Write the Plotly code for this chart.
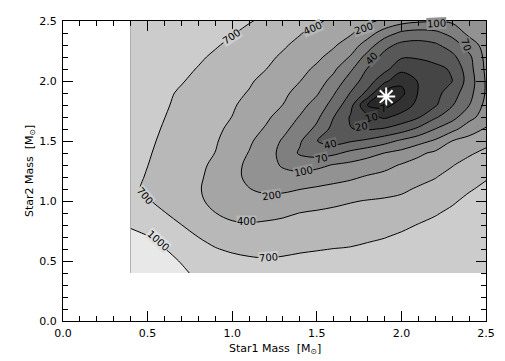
import numpy as np
import plotly.graph_objects as go

# ---------------- data ----------------
star1_mass = [0.4, 0.5, 0.6, 0.7, 0.8, 0.9, 1.0, 1.1, 1.2, 1.3, 1.4,
              1.5, 1.6, 1.7, 1.8, 1.9, 2.0, 2.1, 2.2, 2.3, 2.4, 2.5]
star2_mass = [0.4, 0.5, 0.6, 0.7, 0.8, 0.9, 1.0, 1.1, 1.2, 1.3, 1.4,
              1.5, 1.6, 1.7, 1.8, 1.9, 2.0, 2.1, 2.2, 2.3, 2.4, 2.5]

contour_levels = [7, 10, 20, 40, 70, 100, 200, 400, 700, 1000]

# chi-square values, one list per Star2-mass row (Star1 mass runs left to right)
chi2_y040 = [1450, 1290, 1170, 1060, 979, 940, 901, 859, 826, 826, 835, 850, 865, 880, 895, 910, 922, 931, 940, 946, 952, 958]
chi2_y050 = [1320, 1200, 1100, 994, 940, 886, 790, 745, 724, 736, 757, 766, 778, 793, 826, 868, 898, 919, 934, 946, 955, 961]
chi2_y060 = [1250, 1120, 1020, 907, 811, 715, 655, 628, 631, 646, 670, 688, 703, 715, 745, 778, 820, 865, 889, 910, 931, 946]
chi2_y070 = [1170, 1050, 922, 811, 698, 607, 544, 526, 535, 556, 583, 601, 619, 634, 661, 691, 739, 796, 850, 880, 910, 931]
chi2_y080 = [979, 886, 793, 703, 601, 499, 439, 424, 442, 463, 493, 517, 535, 553, 577, 604, 649, 709, 766, 820, 865, 895]
chi2_y090 = [925, 817, 709, 607, 505, 403, 354, 340, 346, 370, 403, 430, 454, 472, 493, 517, 553, 616, 676, 754, 820, 865]
chi2_y100 = [814, 721, 628, 535, 439, 356, 300, 268, 248, 268, 302, 332, 362, 390, 412, 430, 457, 520, 580, 664, 766, 835]
chi2_y110 = [748, 664, 583, 499, 418, 344, 274, 204, 185, 183, 198, 224, 252, 282, 316, 342, 370, 427, 484, 574, 673, 760]
chi2_y120 = [766, 682, 601, 520, 436, 348, 254, 180, 150, 129, 131, 150, 168, 185, 218, 254, 292, 344, 392, 484, 583, 673]
chi2_y130 = [784, 703, 619, 538, 457, 366, 260, 180, 135, 97, 88.6, 92.2, 106, 125, 147, 172, 214, 266, 314, 390, 490, 568]
chi2_y140 = [802, 721, 640, 559, 478, 398, 294, 196, 140, 91.9, 66.1, 57.4, 63.4, 77.8, 89.5, 101, 130, 181, 236, 298, 376, 460]
chi2_y150 = [817, 739, 661, 580, 502, 424, 328, 230, 154, 96.7, 73.6, 40.6, 32.6, 38.4, 45.7, 59.2, 75.4, 89.2, 114, 202, 272, 346]
chi2_y160 = [835, 757, 682, 604, 526, 448, 366, 276, 190, 125, 87.4, 63.1, 33.4, 20.5, 19.0, 21.8, 30.6, 46, 70.3, 91, 153, 220]
chi2_y170 = [853, 778, 703, 628, 550, 475, 398, 316, 234, 161, 98.2, 76.6, 40.3, 19, 12.8, 9.52, 13.4, 19, 37.2, 59.2, 90.4, 145]
chi2_y180 = [871, 796, 724, 649, 574, 502, 427, 352, 274, 199, 135, 88.3, 58.6, 26.6, 6.65, 4.9, 8.23, 12.8, 18.7, 38.4, 69.1, 129]
chi2_y190 = [880, 811, 742, 670, 601, 532, 460, 390, 314, 238, 171, 112, 72.7, 39, 17.5, 4.2, 5.25, 10.6, 16.5, 30.6, 58.9, 110]
chi2_y200 = [910, 844, 784, 715, 643, 571, 499, 430, 354, 278, 204, 144, 90.7, 54.7, 30.6, 12.5, 7.6, 10.7, 15.3, 19.8, 53.2, 110]
chi2_y210 = [925, 880, 820, 754, 688, 616, 544, 472, 403, 328, 256, 183, 117, 74.8, 38.8, 26.2, 13, 15, 17.5, 22.2, 58.3, 120]
chi2_y220 = [940, 895, 841, 790, 733, 664, 592, 520, 451, 378, 308, 238, 167, 97.6, 58.3, 34, 22, 22, 26, 35, 63.1, 130]
chi2_y230 = [955, 916, 871, 826, 775, 721, 652, 577, 505, 430, 360, 292, 224, 151, 86.5, 49, 35, 33, 37, 52.6, 84.1, 140]
chi2_y240 = [964, 934, 895, 856, 811, 760, 715, 646, 568, 493, 415, 350, 288, 224, 145, 85.9, 64, 58, 62.5, 80.5, 125, 150]
chi2_y250 = [970, 946, 916, 880, 841, 799, 760, 715, 658, 586, 511, 436, 366, 300, 234, 185, 140, 115, 110, 115, 130, 150]

best_fit_star1 = [1.91]
best_fit_star2 = [1.87]

# ---------------- styling ----------------
band_grays = [40, 59, 78, 98, 117, 136, 155, 174, 194, 213, 232]


def gray(v):
    v = int(round(v))
    return f"rgb({v},{v},{v})"


# contour label placement (text, x, y, angle, level index)
label_specs = [
    ("700", 0.997, 2.37, -33, 9),
    ("400", 1.472, 2.44, -24, 8),
    ("200", 1.775, 2.44, -18, 7),
    ("100", 2.21, 2.478, -3, 6),
    ("70", 2.386, 2.30, 70, 5),
    ("40", 1.824, 2.19, -45, 4),
    ("7", 1.89, 1.775, -20, 1),
    ("10", 1.824, 1.70, -15, 2),
    ("20", 1.766, 1.62, -10, 3),
    ("40", 1.578, 1.467, -15, 4),
    ("70", 1.529, 1.356, -15, 5),
    ("100", 1.42, 1.244, -12, 6),
    ("200", 1.233, 1.05, -8, 7),
    ("400", 1.086, 0.828, 0, 8),
    ("700", 1.213, 0.53, -5, 9),
    ("700", 0.485, 1.05, 50, 9),
    ("1000", 0.563, 0.675, 42, 10),
]

# ---------------- build figure ----------------
z_chi2 = np.array([chi2_y040, chi2_y050, chi2_y060, chi2_y070, chi2_y080,
                   chi2_y090, chi2_y100, chi2_y110, chi2_y120, chi2_y130,
                   chi2_y140, chi2_y150, chi2_y160, chi2_y170, chi2_y180,
                   chi2_y190, chi2_y200, chi2_y210, chi2_y220, chi2_y230,
                   chi2_y240, chi2_y250], dtype=float)

# Plotly contours need evenly spaced levels: map chi2 onto a level-index scale
level_x = [0] + contour_levels + [2000]
level_t = list(range(len(level_x)))
z_index = np.interp(z_chi2, level_x, level_t)

colorscale = [[0.0, gray(band_grays[0])], [0.05, gray(band_grays[0])]]
for k in range(1, 10):
    colorscale.append([(k + 0.5) / 10.0, gray(band_grays[k])])
colorscale.append([1.0, gray(band_grays[10])])

fig = go.Figure()
fig.add_trace(go.Contour(
    x=star1_mass, y=star2_mass, z=z_index,
    customdata=z_chi2,
    hovertemplate="M1=%{x}<br>M2=%{y}<br>chi2=%{customdata}<extra></extra>",
    autocontour=False,
    contours=dict(start=1, end=10, size=1, coloring="fill", showlines=True),
    line=dict(color="black", width=1, smoothing=1),
    colorscale=colorscale,
    showscale=False,
))

fig.add_trace(go.Scatter(
    x=best_fit_star1, y=best_fit_star2, mode="markers",
    marker=dict(symbol="asterisk-open", size=15, color="white",
                line=dict(color="white", width=2)),
    hoverinfo="skip",
))

annotations = []
for text, ax_, ay_, ang, k in label_specs:
    annotations.append(dict(
        x=ax_, y=ay_, xref="x", yref="y", text=text, showarrow=False,
        textangle=ang, font=dict(family="DejaVu Sans", size=10, color="black"),
        bgcolor=gray((band_grays[k - 1] + band_grays[k]) / 2.0),
        borderpad=0,
    ))

# axis titles as annotations placed like the reference
annotations.append(dict(
    x=0.5, y=-0.093, xref="paper", yref="paper", xanchor="center", yanchor="middle",
    text="Star1 Mass  [M<sub>⊙</sub>]", showarrow=False,
    font=dict(family="DejaVu Sans", size=11, color="black"),
))
annotations.append(dict(
    x=-0.078, y=0.5, xref="paper", yref="paper", xanchor="center", yanchor="middle",
    text="Star2 Mass  [M<sub>⊙</sub>]", showarrow=False, textangle=-90,
    font=dict(family="DejaVu Sans", size=11, color="black"),
))

axis_common = dict(
    range=[0, 2.5], dtick=0.5, tick0=0, tickformat=".1f",
    ticks="inside", ticklen=10, tickwidth=1, tickcolor="black",
    showline=True, linecolor="black", linewidth=1, mirror="allticks",
    showgrid=False, zeroline=False, automargin=False,
    tickfont=dict(family="DejaVu Sans", size=11, color="black"),
    minor=dict(dtick=0.1, tick0=0, ticks="inside", ticklen=5,
               tickwidth=1, tickcolor="black", showgrid=False),
)

# the page body adds an 8 px margin, so the figure is 8 px smaller than the window
fig.update_layout(
    width=497, height=353,
    margin=dict(l=55, r=19, t=13, b=40, autoexpand=False),
    paper_bgcolor="white", plot_bgcolor="white",
    showlegend=False,
    annotations=annotations,
    xaxis=dict(axis_common, ticklabelstandoff=2),
    yaxis=dict(axis_common, ticklabelstandoff=3),
)

fig.write_html("out.html")
